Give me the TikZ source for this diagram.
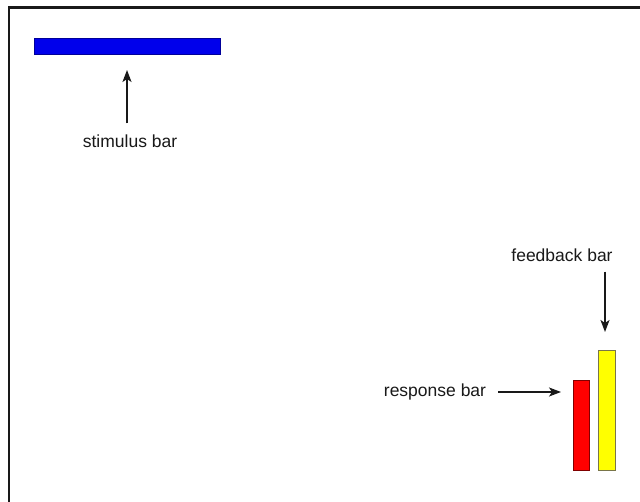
\documentclass[tikz,border=0pt]{standalone}
\usepackage{fontspec}
\setmainfont{Liberation Sans}
\usetikzlibrary{arrows.meta}
\definecolor{barblue}{RGB}{0,0,235}
\definecolor{barred}{RGB}{255,0,0}
\definecolor{baryellow}{RGB}{255,255,0}
\tikzset{
  bar/.style={draw, line width=1pt, inner sep=0pt, outer sep=0pt},
  lbl/.style={font=\fontsize{17.5}{20}\selectfont, text=black!90, inner sep=0pt},
  arr/.style={-{Stealth[length=12pt,width=9pt,inset=3pt]}, line width=1.8pt, black!90}
}
\begin{document}
\begin{tikzpicture}[x=1pt,y=-1pt]
\useasboundingbox (0,0) rectangle (640,502);
\fill[white] (0,0) rectangle (640,502);
% frame (left and top only)
\draw[line width=2.2pt, black!90] (9,502) -- (9,7.5) -- (640,7.5);
% bars
\node[bar, fill=barblue, draw=blue!60!black, minimum width=186pt, minimum height=16pt] (blue) at (127,47) {};
\node[bar, fill=barred, draw=red!50!black, minimum width=16pt, minimum height=89pt] (red) at (581,425.5) {};
\node[bar, fill=baryellow, draw=yellow!40!black, minimum width=17pt, minimum height=119pt] (yellow) at (606.5,410.5) {};
% labels
\node[lbl] (stimtext) at (130,141) {stimulus bar};
\node[lbl] (feedtext) at (562,255) {feedback bar};
\node[lbl] (resptext) at (435,392) {response bar};
% connectors
\draw[arr] (stimtext.north -| blue.south) ++(0,-11) coordinate (s0) (s0) -- ([yshift=-15pt]blue.south);
\draw[arr] ([xshift=-1.5pt,yshift=-10pt]feedtext.south -| yellow.north) -- ([xshift=-1.5pt,yshift=19pt]yellow.north);
\draw[arr] ([xshift=12pt]resptext.east) -- ([xshift=-12pt]red.west |- resptext.east);
\end{tikzpicture}
\end{document}
